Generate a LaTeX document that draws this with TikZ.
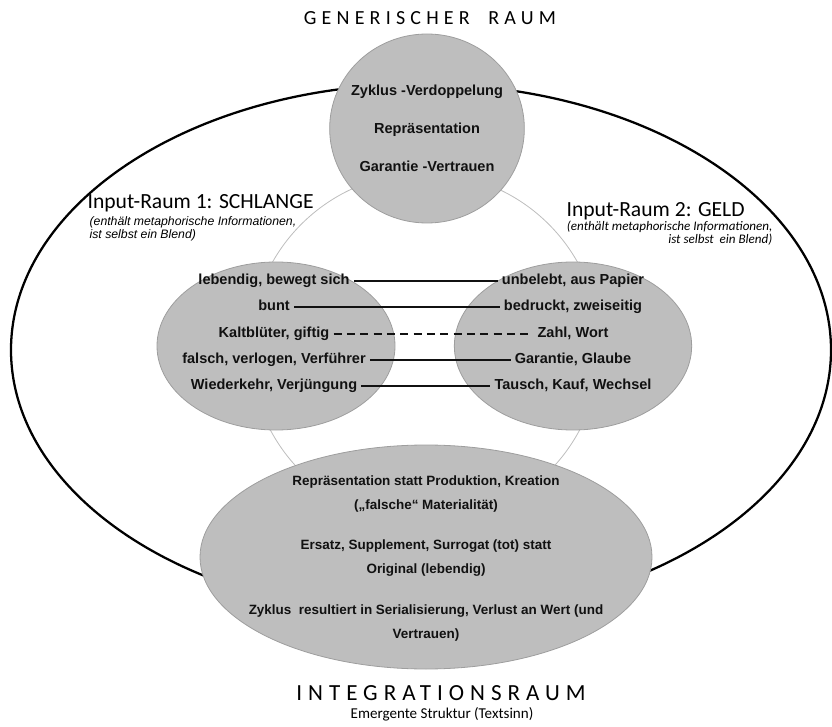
\documentclass[tikz,border=0pt]{standalone}
\usepackage{fontspec}
\setmainfont{Liberation Sans}
\newfontfamily\calibri{Carlito}
\newfontfamily\calibrispaced[LetterSpace=26]{Carlito}
\usepackage{tikz}
\usetikzlibrary{shapes.geometric, positioning}
\definecolor{blobfill}{HTML}{BEBEBE}
\definecolor{blobedge}{HTML}{9E9E9E}
\definecolor{ringline}{HTML}{BDBDBD}
\definecolor{inktext}{HTML}{111111}

\begin{document}
\begin{tikzpicture}[x=0.75pt, y=-0.75pt,
  blob/.style      = {ellipse, draw=blobedge, fill=blobfill, inner sep=0pt, line width=0.6pt},
  entry/.style     = {font=\fontsize{10.9}{13}\selectfont\bfseries, text=inktext, inner xsep=3pt, inner ysep=1pt, text height=8pt, text depth=2.3pt},
  blendtext/.style = {font=\fontsize{10.1}{18}\selectfont\bfseries, text=inktext, align=center, inner sep=1pt},
  link/.style      = {line width=1.1pt, color=inktext},
  spacetitle/.style= {font=\calibrispaced\fontsize{15}{17}\selectfont, inner sep=1pt},
  inlabel/.style   = {font=\calibri\fontsize{16.2}{18}\selectfont, anchor=west, inner sep=1pt},
  note/.style      = {font=\fontsize{9.2}{9.6}\selectfont\itshape, align=left, anchor=north west, inner sep=1pt},
]
\useasboundingbox (0,0) rectangle (832,727);

% outer frame and thin ring
\node[ellipse, draw, line width=1.7pt, minimum width=615pt, minimum height=399pt, inner sep=0pt] (frame) at (421,350) {};
\node[circle, draw=ringline, line width=0.6pt, minimum size=262.5pt, inner sep=0pt] (ring) at (425,348) {};

% the four spaces
\node[blob, minimum width=146pt, minimum height=141.75pt] (generic) at (427,128.5) {};
\node[blob, minimum width=178.5pt, minimum height=126pt] (input1) at (276,346) {};
\node[blob, minimum width=178pt, minimum height=126pt] (input2) at (573,346) {};
\node[blob, minimum width=339pt, minimum height=168pt] (blend) at (426,557) {};

% generic space
\node[spacetitle] (gentitle) at (430,18) {GENERISCHER\hspace{14pt}RAUM};
\node[entry] (g1) at (427,92) {Zyklus -Verdoppelung};
\node[entry] (g2) at (427,130) {Repräsentation};
\node[entry] (g3) at (427,168) {Garantie -Vertrauen};

% input labels
\node[inlabel] (lab1) at (86,203) {Input-Raum 1: SCHLANGE};
\node[note] (sub1) at (88,215) {(enthält metaphorische Informationen,\\ist selbst ein Blend)};
\node[inlabel] (lab2) at (565,211) {Input-Raum 2: GELD};
\node[note, font=\calibri\fontsize{9.8}{10}\selectfont\itshape, align=right, anchor=north east] (sub2) at (774,219) {(enthält metaphorische Informationen,\\ist selbst\ \ ein Blend)};

% input 1 items
\node[entry] (l1) at (274,281) {lebendig, bewegt sich};
\node[entry] (l2) at (274,307) {bunt};
\node[entry] (l3) at (274,334) {Kaltblüter, giftig};
\node[entry] (l4) at (274,360) {falsch, verlogen, Verführer};
\node[entry] (l5) at (274,386) {Wiederkehr, Verjüngung};

% input 2 items
\node[entry] (r1) at (573,281) {unbelebt, aus Papier};
\node[entry] (r2) at (573,307) {bedruckt, zweiseitig};
\node[entry] (r3) at (573,334) {Zahl, Wort};
\node[entry] (r4) at (573,360) {Garantie, Glaube};
\node[entry] (r5) at (573,386) {Tausch, Kauf, Wechsel};

% cross-space mapping
\draw[link] (l1.east) -- (r1.west);
\draw[link] (l2.east) -- (r2.west);
\draw[link, dash pattern=on 6pt off 4pt] (l3.east) -- (r3.west);
\draw[link] (l4.east) -- (r4.west);
\draw[link] (l5.east) -- (r5.west);

% blend
\node[blendtext] (b1) at (426,494) {Repräsentation statt Produktion, Kreation\\(„falsche“ Materialität)};
\node[blendtext] (b2) at (426,558) {Ersatz, Supplement, Surrogat (tot) statt\\Original (lebendig)};
\node[blendtext] (b3) at (426,623) {Zyklus\ \ resultiert in Serialisierung, Verlust an Wert (und\\Vertrauen)};
\node[spacetitle, font=\calibrispaced\fontsize{17.3}{19}\selectfont] (inttitle) at (441,693) {INTEGRATIONSRAUM};
\node[font=\calibri\fontsize{11.3}{13}\selectfont, inner sep=1pt] (intsub) at (442,714) {Emergente Struktur (Textsinn)};
\end{tikzpicture}
\end{document}
